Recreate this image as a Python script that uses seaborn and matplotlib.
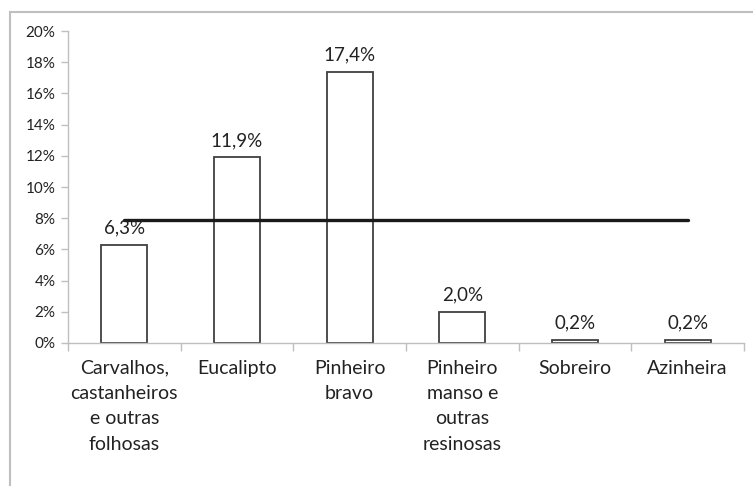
import matplotlib
matplotlib.use("Agg")
from matplotlib import pyplot as plt
from matplotlib.patches import Rectangle
from matplotlib.ticker import FixedLocator, FuncFormatter
import seaborn as sns
import pandas as pd

categorias = ["Carvalhos,\ncastanheiros\ne outras\nfolhosas", "Eucalipto", "Pinheiro\nbravo",
              "Pinheiro\nmanso e\noutras\nresinosas", "Sobreiro", "Azinheira"]
valores = [6.3, 11.9, 17.4, 2.0, 0.2, 0.2]
rotulos = ["6,3%", "11,9%", "17,4%", "2,0%", "0,2%", "0,2%"]
media = [7.9, 7.9, 7.9, 7.9, 7.9, 7.9]

sns.set_style("white")
plt.rcParams["font.family"] = ["Lato", "DejaVu Sans"]

df = pd.DataFrame({"Categoria": categorias, "Valor": valores, "Media": media})

fig = plt.figure(figsize=(7.53, 4.86), dpi=100)
ax = fig.add_axes([68 / 753, 1 - 343 / 486, (744 - 68) / 753, (343 - 31) / 486])

sns.barplot(data=df, x="Categoria", y="Valor", color="white", edgecolor="#404040",
            linewidth=1.3, width=0.41, ax=ax)
sns.lineplot(data=df, x="Categoria", y="Media", color="#1a1a1a", linewidth=2.4, ax=ax)

for i, (v, r) in enumerate(zip(valores, rotulos)):
    ax.annotate(r, (i, v), xytext=(0, 6), textcoords="offset points",
                ha="center", va="bottom", fontsize=13.5, color="#222222")

ax.set_xlim(-0.5, 5.5)
ax.set_ylim(0, 20)
ax.set_yticks(range(0, 21, 2))
ax.yaxis.set_major_formatter(FuncFormatter(lambda v, p: f"{int(v)}%"))
ax.tick_params(axis="y", length=5, width=1, color="#bfbfbf", direction="out",
               labelsize=11, labelcolor="#222222", pad=4, left=True)
ax.tick_params(axis="x", which="major", length=0, labelsize=14, labelcolor="#222222", pad=12)
ax.xaxis.set_minor_locator(FixedLocator([i - 0.5 for i in range(7)]))
ax.tick_params(axis="x", which="minor", length=6, width=1, color="#bfbfbf", direction="out", bottom=True)
for lbl in ax.get_xticklabels():
    lbl.set_linespacing(1.6)
    lbl.set_va("top")

ax.set_xlabel("")
ax.set_ylabel("")
for side in ["top", "right"]:
    ax.spines[side].set_visible(False)
for side in ["left", "bottom"]:
    ax.spines[side].set_color("#bfbfbf")
    ax.spines[side].set_linewidth(1)

fig.patches.append(Rectangle((10 / 753, -0.1), 1.2, 1 - 12 / 486 + 0.1, transform=fig.transFigure,
                             fill=False, edgecolor="#bfbfbf", linewidth=1.5))

fig.savefig("out.png", dpi=100)
